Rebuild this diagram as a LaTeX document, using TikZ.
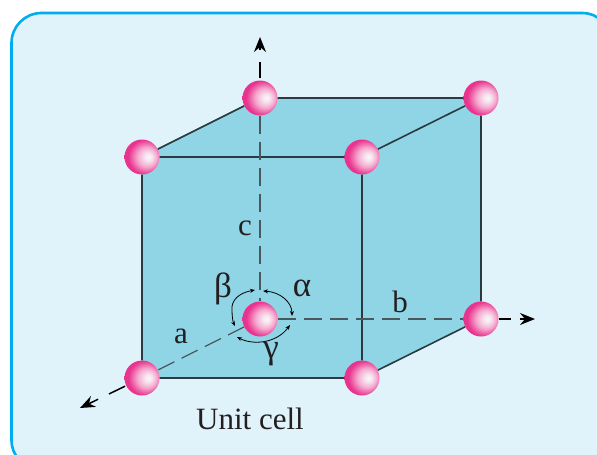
\documentclass[tikz,border=0pt]{standalone}
\usepackage{fontspec}
\setmainfont{Liberation Serif}
\usetikzlibrary{arrows.meta}
\definecolor{panel}{HTML}{E0F3FB}
\definecolor{rim}{HTML}{00AEEF}
\definecolor{cubefill}{HTML}{8FD5E5}
\definecolor{edgecol}{HTML}{2A3A40}
\definecolor{txt}{HTML}{231F20}
\pgfdeclareradialshading{atomball}{\pgfpoint{10bp}{0bp}}{%
  rgb(0bp)=(0.97,0.97,0.97); rgb(5bp)=(0.97,0.90,0.94); rgb(14bp)=(0.96,0.66,0.81); rgb(21bp)=(0.93,0.36,0.64); rgb(25bp)=(0.91,0.20,0.56); rgb(50bp)=(0.91,0.20,0.56)}
\tikzset{
  x=1pt,y=-1pt,
  atom/.style={circle,minimum size=35pt,inner sep=0pt,shading=atomball},
  edgeline/.style={edgecol,line width=1.6pt},
  inaxis/.style={edgecol!85!white,line width=1.3pt,dash pattern=on 18pt off 8pt},
  outaxis/.style={black,line width=1.5pt,-{Stealth[length=15pt,width=12pt,inset=5pt]}},
  anglearrow/.style={black,line width=0.8pt,{Stealth[length=5pt,width=4pt]}-{Stealth[length=5pt,width=4pt]}},
  lbl/.style={text=txt,font=\fontsize{31}{33}\selectfont,inner sep=0pt},
  glbl/.style={text=txt,font=\fontsize{35}{37}\selectfont,inner sep=0pt}
}
\begin{document}
\begin{tikzpicture}
\useasboundingbox (0,0) rectangle (597,455);
\clip (0,0) rectangle (597,455);
\draw[rim,fill=panel,line width=2.6pt,rounded corners=30pt] (11.5,13) rectangle (612,470);
\coordinate (btl) at (260,98);
\coordinate (btr) at (481,98);
\coordinate (ftl) at (142,157);
\coordinate (ftr) at (362,157);
\coordinate (fbl) at (142,378);
\coordinate (fbr) at (362,378);
\coordinate (bbr) at (481,319);
\coordinate (bbl) at (260,319);
\coordinate (cend) at (260,37);
\coordinate (bend) at (535,319);
\coordinate (aend) at (80,408);
\fill[cubefill] (btl)--(btr)--(bbr)--(fbr)--(fbl)--(ftl)--cycle;
\node[atom] (nbbl) at (bbl) {};
\node[atom] (nbtl) at (btl) {};
\node[atom] (nbtr) at (btr) {};
\node[atom] (nftl) at (ftl) {};
\node[atom] (nftr) at (ftr) {};
\node[atom] (nfbl) at (fbl) {};
\node[atom] (nfbr) at (fbr) {};
\node[atom] (nbbr) at (bbr) {};
\draw[edgeline] (nbtl)--(nbtr) (nbtr)--(nbbr) (nftl)--(nftr) (nftr)--(nfbr) (nfbr)--(nfbl) (nfbl)--(nftl) (nftl)--(nbtl) (nftr)--(nbtr) (nfbr)--(nbbr);
\draw[inaxis] (nbtl)--(nbbl);
\draw[inaxis] (nbbl)--(nbbr);
\draw[inaxis] (nbbl)--(nfbl);
\draw[outaxis,dash pattern=on 0pt off 2pt on 16pt off 10pt] (nbtl)--(cend);
\draw[outaxis,dash pattern=on 12pt off 9pt] (nbbr)--(bend);
\draw[outaxis,dash pattern=on 0pt off 1pt on 18pt off 11pt] (nfbl)--(aend);
\draw[anglearrow] (263,291) .. controls (280,292) and (292,302) .. (292,316);
\draw[anglearrow] (255,290) .. controls (238,293) and (231,301) .. (232,310) .. controls (232,317) and (233,322) .. (235,326);
\draw[anglearrow] (237,337) .. controls (252,345) and (276,344) .. (290,325);
\node[lbl] (lc) at (245,228) {c};
\node[lbl] (lb) at (400,302) {b};
\node[lbl] (la) at (181,336) {a};
\node[glbl] (lbeta) at (223,289) {β};
\node[glbl] (lalpha) at (302,288) {α};
\node[glbl] (lgamma) at (271,354) {γ};
\node[lbl,anchor=base] (cap) at (250,429) {Unit cell};
\end{tikzpicture}
\end{document}
